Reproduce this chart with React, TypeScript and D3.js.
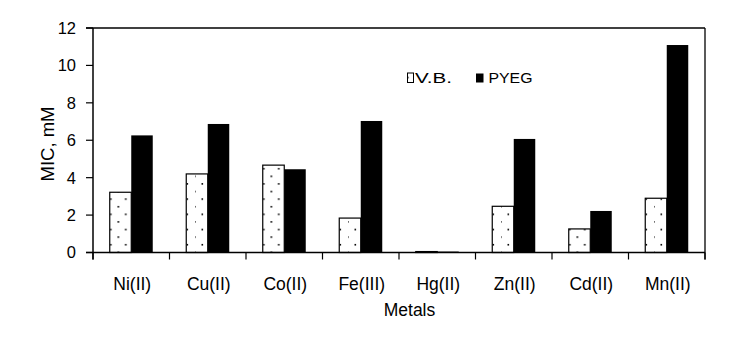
import React from "react";
import * as d3 from "d3";

const categories = ["Ni(II)", "Cu(II)", "Co(II)", "Fe(III)", "Hg(II)", "Zn(II)", "Cd(II)", "Mn(II)"];
const seriesNames = ["V.B.", "PYEG"];
const vbValues = [3.22, 4.2, 4.67, 1.84, 0.05, 2.47, 1.26, 2.9];
const pyegValues = [6.26, 6.87, 4.45, 7.03, 0.05, 6.07, 2.22, 11.09];
const yTicks = [0, 2, 4, 6, 8, 10, 12];

const W = 755;
const H = 345;
const M = { left: 93, right: 705, top: 28, bottom: 252.5 };
const FONT = "Liberation Sans, Arial, sans-serif";

export default function App() {
  const x = d3.scaleBand<string>().domain(categories).range([M.left, M.right]).paddingInner(0).paddingOuter(0);
  const y = d3.scaleLinear().domain([0, 12]).range([M.bottom, M.top]);
  const bw = x.bandwidth();
  const barW = 21.5;
  const inner = d3.scaleBand<string>().domain(seriesNames).range([bw / 2 - barW, bw / 2 + barW]);
  const tickPositions = categories.map((c) => x(c)!).concat([M.right]);

  return (
    <svg width={W} height={H} style={{ position: "absolute", left: 0, top: 0, background: "#fff" }}>
      <defs>
        <pattern id="dots" patternUnits="userSpaceOnUse" width={15} height={15.2} x={M.left + 21.5} y={M.bottom - 1}>
          <rect width={15} height={15.2} fill="#fff" />
          <rect x={0} y={0} width={1.6} height={1.6} fill="#000" />
          <rect x={7.5} y={7.6} width={1.6} height={1.6} fill="#000" />
        </pattern>
      </defs>
      <rect x={0} y={0} width={W} height={H} fill="#fff" />
      {/* frame */}
      <line x1={M.left - 7} x2={M.right} y1={M.top} y2={M.top} stroke="#000" strokeWidth={1.3} />
      <line x1={M.right} x2={M.right} y1={M.top} y2={M.bottom + 7} stroke="#000" strokeWidth={1.3} />
      {/* bars */}
      {categories.map((c, i) => (
        <g key={c} transform={`translate(${x(c)},0)`}>
          <rect
            x={inner("V.B.")!}
            y={y(vbValues[i])}
            width={inner.bandwidth()}
            height={M.bottom - y(vbValues[i])}
            fill="url(#dots)"
            stroke="#000"
            strokeWidth={1.2}
          />
          <rect
            x={inner("PYEG")!}
            y={y(pyegValues[i])}
            width={inner.bandwidth()}
            height={M.bottom - y(pyegValues[i])}
            fill="#000"
          />
        </g>
      ))}
      {/* axes */}
      <line x1={M.left} x2={M.left} y1={M.top} y2={M.bottom + 7} stroke="#000" strokeWidth={1.5} />
      <line x1={M.left - 7} x2={M.right} y1={M.bottom} y2={M.bottom} stroke="#000" strokeWidth={1.5} />
      {yTicks.map((t) => (
        <g key={t}>
          <line x1={M.left - 7} x2={M.left} y1={y(t)} y2={y(t)} stroke="#000" strokeWidth={1.2} />
          <text x={M.left - 17} y={y(t)} dy="0.36em" textAnchor="end" fontFamily={FONT} fontSize={16.5} fill="#000">
            {t}
          </text>
        </g>
      ))}
      {tickPositions.map((p, i) => (
        <line key={i} x1={p} x2={p} y1={M.bottom} y2={M.bottom + 7} stroke="#000" strokeWidth={1.2} />
      ))}
      {categories.map((c) => (
        <text key={c} x={x(c)! + bw / 2 + 1} y={289.5} textAnchor="middle" fontFamily={FONT} fontSize={17.5} fill="#000">
          {c}
        </text>
      ))}
      <text x={409.5} y={316} textAnchor="middle" fontFamily={FONT} fontSize={17.5} fill="#000">
        Metals
      </text>
      <text
        transform={`translate(53.5,144) rotate(-90)`}
        textAnchor="middle"
        fontFamily={FONT}
        fontSize={18.5}
        fill="#000"
      >
        MIC, mM
      </text>
      {/* legend */}
      <rect x={407.5} y={73} width={6} height={9.5} fill="url(#dots)" stroke="#000" strokeWidth={1} />
      <text x={415} y={83.3} fontFamily={FONT} fontSize={15.5} textLength={37} lengthAdjust="spacingAndGlyphs" fill="#000">V.B.</text>
      <rect x={476} y={73.5} width={7.5} height={9} fill="#000" />
      <text x={488.5} y={83.3} fontFamily={FONT} fontSize={15.5} textLength={44} lengthAdjust="spacingAndGlyphs" fill="#000">PYEG</text>
    </svg>
  );
}
